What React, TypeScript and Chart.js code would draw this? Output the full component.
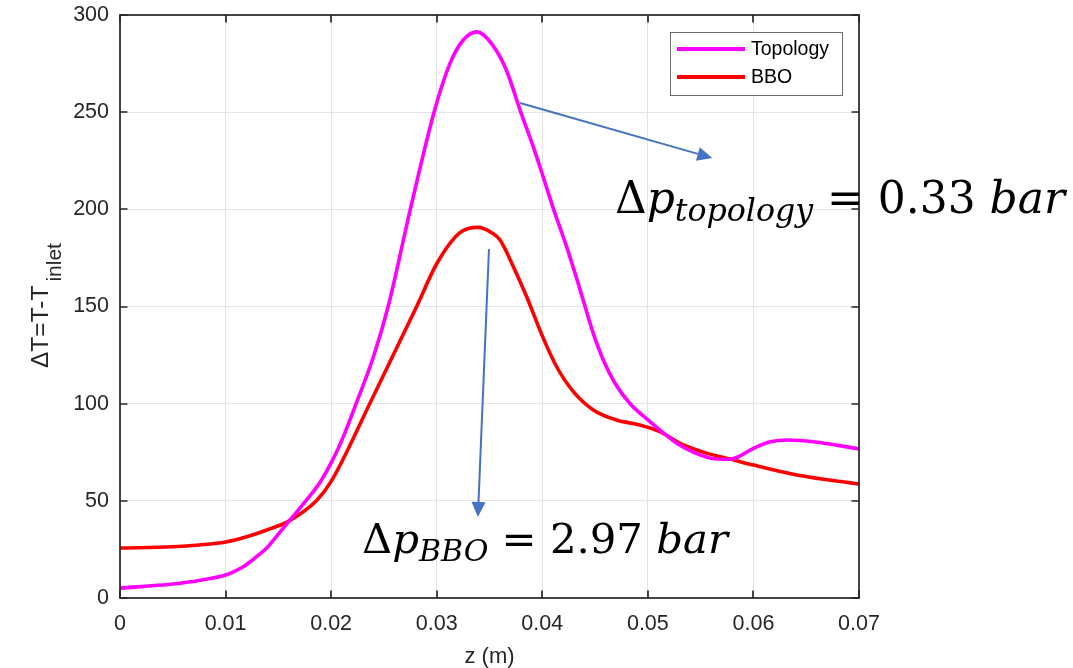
import React, { useEffect, useRef } from 'react';
import { Chart, registerables } from 'chart.js';

Chart.register(...registerables);

// ---------- data ----------
const seriesNames = ['Topology', 'BBO'];
const seriesColors = ['#FF00FF', '#FF0000'];

const topologyZ = [0, 0.005, 0.0075, 0.01, 0.0108, 0.0116, 0.0123, 0.0131, 0.0139, 0.0145, 0.0159, 0.0177, 0.019, 0.02, 0.021, 0.0224, 0.024, 0.0254, 0.0275, 0.0298, 0.03125, 0.0325, 0.0338, 0.0353, 0.0366, 0.03795, 0.03914, 0.04003, 0.04104, 0.0423, 0.0434, 0.04404, 0.04483, 0.04578, 0.04689, 0.0483, 0.05004, 0.05115, 0.053, 0.0556, 0.0566, 0.0578, 0.0587, 0.06, 0.0616, 0.0632, 0.0657, 0.07];
const topologyDT = [5.1, 7.2, 9, 11.8, 13.6, 15.8, 18.5, 22, 25.7, 29.5, 38.8, 50.6, 60, 69.5, 81, 100.5, 124, 150, 200, 251, 275, 287, 291.3, 284.5, 271.6, 250.2, 232.3, 217.7, 200.5, 180.8, 161.9, 150.2, 136.2, 122.5, 110.5, 100.1, 91.5, 86.4, 78.7, 72.4, 71.5, 71.4, 73, 77, 80.4, 81.3, 80.4, 76.7];

const bboZ = [0, 0.005, 0.0075, 0.01, 0.012, 0.0139, 0.0159, 0.0186, 0.02, 0.0237, 0.0281, 0.03, 0.0322, 0.0339, 0.0352, 0.036, 0.03726, 0.03852, 0.04003, 0.04136, 0.04294, 0.04483, 0.04703, 0.04924, 0.05115, 0.053, 0.0554, 0.0578, 0.06, 0.0641, 0.07];
const bboDT = [25.7, 26.4, 27.3, 28.8, 31.5, 35, 39.3, 50, 60, 100.5, 150, 172, 188, 190.7, 188, 184.2, 170.5, 155, 134.5, 119, 106.2, 96.8, 91.6, 89, 85.6, 79.7, 74.8, 71.5, 68.4, 63.3, 58.6];

const xTicks = [0, 0.01, 0.02, 0.03, 0.04, 0.05, 0.06, 0.07];
const xTickLabels = ['0', '0.01', '0.02', '0.03', '0.04', '0.05', '0.06', '0.07'];
const yTicks = [0, 50, 100, 150, 200, 250, 300];

const xTitle = 'z (m)';
const yTitleMain = '\u0394T=T-T';
const yTitleSub = 'inlet';

// annotation texts: [upright prefix, italic var, italic subscript, upright middle, italic unit]
const topologyNote = ['\u0394', 'p', 'topology', ' = 0.33 ', 'bar'];
const bboNote = ['\u0394', 'p', 'BBO', ' = 2.97 ', 'bar'];

// ---------- styling / layout ----------
const W = 1073;
const H = 668;
const AXIS = '#262626';
const ARROW = '#4472C4';
const SANS = '"Liberation Sans", Arial, sans-serif';
const SERIF = '"DejaVu Serif", "Liberation Serif", serif';

function drawArrow(ctx: CanvasRenderingContext2D, x1: number, y1: number, x2: number, y2: number) {
  const ang = Math.atan2(y2 - y1, x2 - x1);
  const hl = 15;
  const hw = 7;
  const bx = x2 - hl * Math.cos(ang);
  const by = y2 - hl * Math.sin(ang);
  ctx.strokeStyle = ARROW;
  ctx.fillStyle = ARROW;
  ctx.lineWidth = 2;
  ctx.beginPath();
  ctx.moveTo(x1, y1);
  ctx.lineTo(bx, by);
  ctx.stroke();
  ctx.beginPath();
  ctx.moveTo(x2, y2);
  ctx.lineTo(bx + hw * Math.sin(ang), by - hw * Math.cos(ang));
  ctx.lineTo(bx - hw * Math.sin(ang), by + hw * Math.cos(ang));
  ctx.closePath();
  ctx.fill();
}

function noteSegs(parts: string[], size: number): [string, string, number][] {
  const sub = size * 0.72;
  return [
    [parts[0], `${size}px ${SERIF}`, 0],
    [parts[1], `italic ${size}px ${SERIF}`, 0],
    [parts[2], `italic ${sub}px ${SERIF}`, size * 0.18],
    [parts[3], `${size}px ${SERIF}`, 0],
    [parts[4], `italic ${size}px ${SERIF}`, 0],
  ];
}

function drawNote(ctx: CanvasRenderingContext2D, parts: string[], x: number, baseline: number, targetWidth: number) {
  let w = 0;
  noteSegs(parts, 40).forEach(([t, f]) => {
    ctx.font = f;
    w += ctx.measureText(t).width;
  });
  const size = Math.min(52, Math.max(30, (40 * targetWidth) / w));
  ctx.fillStyle = '#000';
  ctx.textAlign = 'left';
  ctx.textBaseline = 'alphabetic';
  let cx = x;
  noteSegs(parts, size).forEach(([t, f, dy]) => {
    ctx.font = f;
    ctx.fillText(t, cx, baseline + dy);
    cx += ctx.measureText(t).width;
  });
}

const decorPlugin = {
  id: 'decor',
  afterDraw(chart: any) {
    const { ctx, chartArea: a, scales } = chart;
    const xs = scales.x;
    const ys = scales.y;
    ctx.save();

    // frame
    ctx.strokeStyle = AXIS;
    ctx.lineWidth = 1.7;
    ctx.strokeRect(a.left, a.top, a.right - a.left, a.bottom - a.top);

    // inward tick marks
    const tl = 7.5;
    ctx.beginPath();
    xTicks.forEach((v) => {
      const px = Math.round(xs.getPixelForValue(v));
      ctx.moveTo(px, a.bottom);
      ctx.lineTo(px, a.bottom - tl);
      ctx.moveTo(px, a.top);
      ctx.lineTo(px, a.top + tl);
    });
    yTicks.forEach((v) => {
      const py = Math.round(ys.getPixelForValue(v));
      ctx.moveTo(a.left, py);
      ctx.lineTo(a.left + tl, py);
      ctx.moveTo(a.right, py);
      ctx.lineTo(a.right - tl, py);
    });
    ctx.stroke();

    // x title
    ctx.fillStyle = AXIS;
    ctx.font = `22px ${SANS}`;
    ctx.textAlign = 'center';
    ctx.textBaseline = 'alphabetic';
    ctx.fillText(xTitle, (a.left + a.right) / 2, 663);

    // y title (rotated, with subscript)
    ctx.save();
    ctx.translate(48, 368);
    ctx.rotate(-Math.PI / 2);
    ctx.textAlign = 'left';
    ctx.font = `24.5px ${SANS}`;
    ctx.fillText(yTitleMain, 0, 0);
    const mw = ctx.measureText(yTitleMain).width;
    ctx.font = `21px ${SANS}`;
    ctx.fillText(yTitleSub, mw + 4, 13);
    ctx.restore();

    // legend
    const lx = 670, ly = 32, lw = 172, lh = 63;
    ctx.fillStyle = '#fff';
    ctx.fillRect(lx, ly, lw, lh);
    ctx.strokeStyle = '#6e6e6e';
    ctx.lineWidth = 1;
    ctx.strokeRect(lx + 0.5, ly + 0.5, lw, lh);
    seriesNames.forEach((name, i) => {
      const yy = 49 + i * 28;
      ctx.strokeStyle = seriesColors[i];
      ctx.lineWidth = 4;
      ctx.beginPath();
      ctx.moveTo(677, yy);
      ctx.lineTo(745, yy);
      ctx.stroke();
      ctx.fillStyle = '#000';
      ctx.font = `19.5px ${SANS}`;
      ctx.textAlign = 'left';
      ctx.textBaseline = 'middle';
      ctx.fillText(name, 751, yy + 1);
    });

    // arrows
    drawArrow(ctx, xs.getPixelForValue(0.0379), ys.getPixelForValue(254.7), xs.getPixelForValue(0.0561), ys.getPixelForValue(226.4));
    drawArrow(ctx, xs.getPixelForValue(0.03495), ys.getPixelForValue(179.6), xs.getPixelForValue(0.0339), ys.getPixelForValue(41.7));

    // annotations
    drawNote(ctx, topologyNote, 615, 213, 450);
    drawNote(ctx, bboNote, 362, 553, 366);

    ctx.restore();
  },
};

export default function App() {
  const ref = useRef<HTMLCanvasElement | null>(null);

  useEffect(() => {
    document.body.style.margin = '0';
    const canvas = ref.current;
    if (!canvas) return;
    const toPts = (xs: number[], ys: number[]) => xs.map((x, i) => ({ x, y: ys[i] }));
    const chart = new Chart(canvas, {
      type: 'line',
      data: {
        datasets: [
          {
            label: seriesNames[0],
            data: toPts(topologyZ, topologyDT),
            borderColor: seriesColors[0],
            backgroundColor: seriesColors[0],
            borderWidth: 3.6,
            pointRadius: 0,
            cubicInterpolationMode: 'monotone',
            fill: false,
          },
          {
            label: seriesNames[1],
            data: toPts(bboZ, bboDT),
            borderColor: seriesColors[1],
            backgroundColor: seriesColors[1],
            borderWidth: 3.6,
            pointRadius: 0,
            cubicInterpolationMode: 'monotone',
            fill: false,
          },
        ],
      },
      options: {
        responsive: false,
        animation: false,
        devicePixelRatio: 1,
        layout: { padding: { left: 0, top: 15, right: W - 859, bottom: 0 } },
        plugins: {
          legend: { display: false },
          tooltip: { enabled: false },
          title: { display: false },
        },
        scales: {
          x: {
            type: 'linear',
            min: 0,
            max: 0.07,
            afterBuildTicks: (s: any) => {
              s.ticks = xTicks.map((v) => ({ value: v }));
            },
            afterFit: (s: any) => {
              s.height = 70;
              s.paddingLeft = 0;
              s.paddingRight = 0;
            },
            grid: { color: '#e4e4e4', lineWidth: 1, drawTicks: false },
            border: { display: false },
            ticks: {
              padding: 13,
              color: AXIS,
              font: { family: SANS, size: 21.5 },
              maxRotation: 0,
              autoSkip: false,
              callback: (v: any) => {
                const i = xTicks.findIndex((t) => Math.abs(t - Number(v)) < 1e-9);
                return i >= 0 ? xTickLabels[i] : '';
              },
            },
          },
          y: {
            type: 'linear',
            min: 0,
            max: 300,
            afterBuildTicks: (s: any) => {
              s.ticks = yTicks.map((v) => ({ value: v }));
            },
            afterFit: (s: any) => {
              s.width = 120;
              s.paddingTop = 0;
              s.paddingBottom = 0;
            },
            grid: { color: '#e4e4e4', lineWidth: 1, drawTicks: false },
            border: { display: false },
            ticks: {
              padding: 11,
              color: AXIS,
              font: { family: SANS, size: 21.5 },
              autoSkip: false,
            },
          },
        },
      },
      plugins: [decorPlugin],
    } as any);
    return () => chart.destroy();
  }, []);

  return (
    <div style={{ position: 'absolute', left: 0, top: 0, width: W, height: H, background: '#fff' }}>
      <canvas ref={ref} width={W} height={H} style={{ width: W, height: H, display: 'block' }} />
    </div>
  );
}
